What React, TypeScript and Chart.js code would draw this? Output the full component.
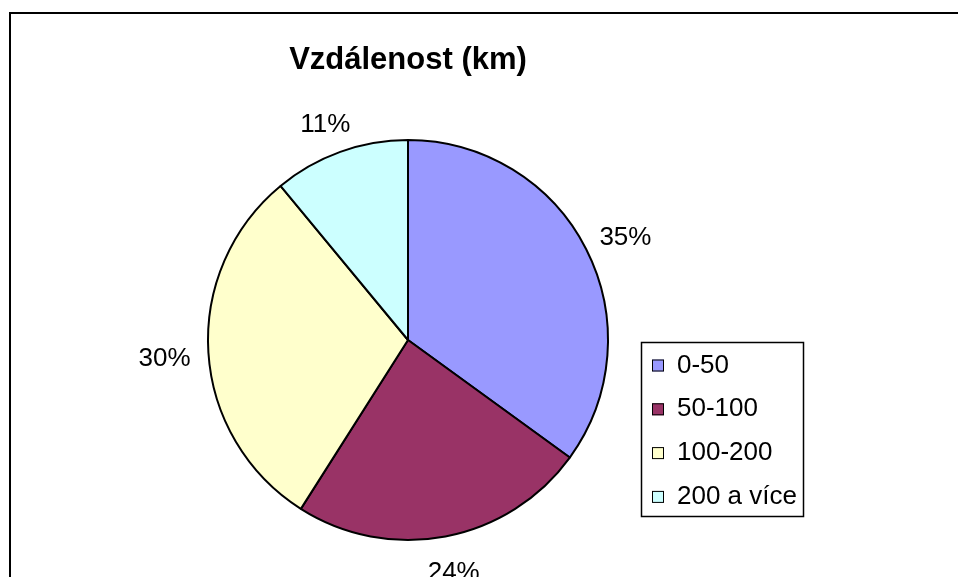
import React, { useEffect, useRef } from 'react';
import { Chart, registerables } from 'chart.js';

Chart.register(...registerables);

const categories = ['0-50', '50-100', '100-200', '200 a více'];
const shares = [35, 24, 30, 11];
const colors = ['#9999FF', '#993366', '#FFFFCC', '#CCFFFF'];
const chartTitle = 'Vzdálenost (km)';

const FONT = '"Liberation Sans", Arial, sans-serif';

const decorPlugin = {
  id: 'decor',
  afterDraw(chart: any) {
    const ctx = chart.ctx as CanvasRenderingContext2D;
    ctx.save();
    // outer frame
    ctx.strokeStyle = '#000';
    ctx.lineWidth = 2;
    ctx.strokeRect(10, 13, 2000, 2000);

    // title
    ctx.fillStyle = '#000';
    ctx.font = `bold 31px ${FONT}`;
    ctx.textAlign = 'center';
    ctx.textBaseline = 'middle';
    ctx.fillText(chartTitle, 408, 60);

    // data labels (box placed just outside the arc, along the slice's mid angle)
    const meta = chart.getDatasetMeta(0);
    ctx.font = `26px ${FONT}`;
    meta.data.forEach((arc: any, i: number) => {
      const p = arc.getProps(['x', 'y', 'startAngle', 'endAngle', 'outerRadius'], true);
      const mid = (p.startAngle + p.endAngle) / 2;
      const dx = Math.cos(mid);
      const dy = Math.sin(mid);
      const r = p.outerRadius + 18;
      const cx = p.x + dx * r + dx * 26;
      const cy = p.y + dy * r + dy * 15 + 4;
      ctx.fillText(`${shares[i]}%`, cx, cy);
    });

    // legend
    ctx.lineWidth = 1.5;
    ctx.strokeRect(641.5, 342.5, 162, 174);
    ctx.textAlign = 'left';
    categories.forEach((lab, i) => {
      const cy = 365.5 + i * 43.8;
      ctx.fillStyle = colors[i];
      ctx.fillRect(652, cy - 6, 12, 12);
      ctx.lineWidth = 1;
      ctx.strokeStyle = '#000';
      ctx.strokeRect(652.5, cy - 5.5, 11, 11);
      ctx.fillStyle = '#000';
      ctx.fillText(lab, 677, cy);
    });
    ctx.restore();
  },
};

export default function App() {
  const ref = useRef<HTMLCanvasElement>(null);
  useEffect(() => {
    if (!ref.current) return;
    const chart = new Chart(ref.current, {
      type: 'pie',
      data: {
        labels: categories,
        datasets: [
          {
            data: shares,
            backgroundColor: colors,
            borderColor: '#000',
            borderWidth: 2,
            radius: 200,
          } as any,
        ],
      },
      options: {
        responsive: false,
        animation: false,
        layout: { padding: { left: 208, right: 350, top: 140, bottom: 37 } },
        plugins: {
          legend: { display: false },
          title: { display: false },
          tooltip: { enabled: false },
        },
      },
      plugins: [decorPlugin],
    });
    return () => chart.destroy();
  }, []);
  return (
    <div style={{ position: 'fixed', left: 0, top: 0, width: 958, height: 577, background: '#fff' }}>
      <canvas ref={ref} width={958} height={577} />
    </div>
  );
}
